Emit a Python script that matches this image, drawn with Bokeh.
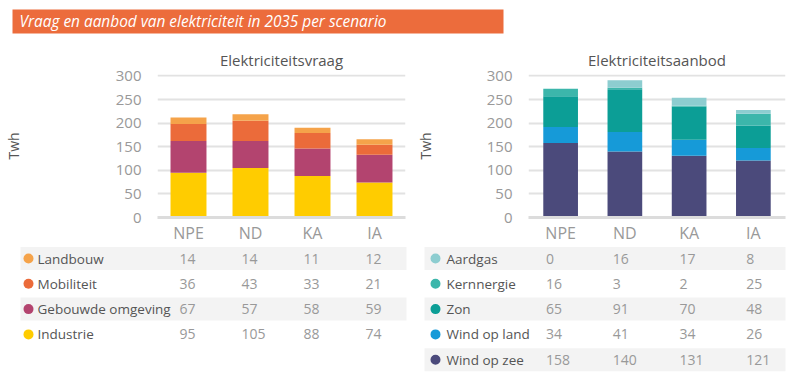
from bokeh.plotting import figure
from bokeh.models import ColumnDataSource, Range1d, FactorRange, FixedTicker
from bokeh.layouts import column, row
from bokeh.embed import file_html
from bokeh.resources import INLINE
from bokeh.core.properties import value

# ---------------- data ----------------
scenarios = ["NPE", "ND", "KA", "IA"]

demand_series = ["Industrie", "Gebouwde omgeving", "Mobiliteit", "Landbouw"]  # bottom -> top
industrie = [95, 105, 88, 74]
gebouwde = [67, 57, 58, 59]
mobiliteit = [36, 43, 33, 21]
landbouw = [14, 14, 11, 12]
demand_colors = ["#FFCC00", "#B3446F", "#EB6B3A", "#F5A34A"]

supply_series = ["Wind op zee", "Wind op land", "Zon", "Kernnergie", "Aardgas"]  # bottom -> top
wind_zee = [158, 140, 131, 121]
wind_land = [34, 41, 34, 26]
zon = [65, 91, 70, 48]
kern = [16, 3, 2, 25]
aardgas = [0, 16, 17, 8]
supply_colors = ["#4B4A7B", "#169AD8", "#0C9E96", "#3CB6AB", "#8DCDD0"]

y_ticks = [0, 50, 100, 150, 200, 250, 300]
header_text = "Vraag en aanbod van elektriciteit in 2035 per scenario"
FONT = "Open Sans"

HEADER_H = 40
CHART_H = 206
TABLE_H = 132


def make_chart(title, series, values, colors, width, b_left, b_right, bar_w, lab_standoff):
    data = {"scenario": scenarios}
    for s, v in zip(series, values):
        data[s] = v
    src = ColumnDataSource(data)
    p = figure(x_range=FactorRange(*scenarios), y_range=Range1d(0, 303),
               width=width, height=CHART_H, output_backend="svg", toolbar_location=None,
               min_border_left=b_left, min_border_right=b_right,
               min_border_top=34, min_border_bottom=29, title=title)
    p.vbar_stack(series, x="scenario", width=bar_w, fill_color=colors,
                 line_color=None, source=src)
    p.outline_line_color = None
    p.title.align = "center"
    p.title.text_font = FONT
    p.title.text_font_size = "15px"
    p.title.text_font_style = "normal"
    p.title.text_color = "#555555"
    p.title.standoff = 9

    p.yaxis.ticker = FixedTicker(ticks=y_ticks)
    p.yaxis.axis_line_color = None
    p.yaxis.major_tick_line_color = None
    p.yaxis.minor_tick_line_color = None
    p.yaxis.major_label_text_color = "#999999"
    p.yaxis.major_label_text_font = FONT
    p.yaxis.major_label_text_font_size = "15px"
    p.yaxis.major_label_standoff = 10
    p.yaxis.axis_label = "Twh"
    p.yaxis.axis_label_text_font = FONT
    p.yaxis.axis_label_text_font_style = "normal"
    p.yaxis.axis_label_text_font_size = "14px"
    p.yaxis.axis_label_text_color = "#555555"
    p.yaxis.axis_label_standoff = lab_standoff

    p.ygrid.ticker = FixedTicker(ticks=y_ticks)
    p.ygrid.grid_line_color = "#e2e2e2"
    p.ygrid.grid_line_width = 2
    p.xgrid.grid_line_color = None

    p.xaxis.axis_line_color = "#dcdcdc"
    p.xaxis.axis_line_width = 3
    p.xaxis.major_tick_line_color = None
    p.xaxis.minor_tick_line_color = None
    p.xaxis.major_label_text_color = "#999999"
    p.xaxis.major_label_text_font = FONT
    p.xaxis.major_label_text_font_size = "16px"
    p.xaxis.major_label_standoff = -2
    return p


def make_table(series_td, values_td, colors_td, width, frame_left, frame_w,
               dot_x, text_x, row_x0, row_x1, val_dx):
    p = figure(x_range=Range1d(0, width), y_range=Range1d(TABLE_H, 0),
               width=width, height=TABLE_H, output_backend="svg", toolbar_location=None,
               x_axis_location=None, y_axis_location=None, min_border=0)
    p.outline_line_color = None
    p.grid.grid_line_color = None
    n = len(series_td)
    centers = [12 + 25.3 * i for i in range(n)]
    gray = [centers[i] for i in range(n) if i % 2 == 0]
    p.rect(x=(row_x0 + row_x1) / 2, y=gray, width=row_x1 - row_x0, height=23,
           fill_color="#f3f3f3", line_color=None)
    p.scatter(x=dot_x, y=centers, size=10, fill_color=colors_td, line_color=None)
    p.text(x=text_x, y=centers, text=series_td, text_baseline="middle",
           text_align="left", text_font=value(FONT), text_font_size="13.5px",
           text_color="#555555")
    cat_w = frame_w / len(scenarios)
    for j in range(len(scenarios)):
        xc = frame_left + cat_w * (j + 0.5) + val_dx
        p.text(x=xc, y=centers, text=[str(v[j]) for v in values_td],
               text_baseline="middle", text_align="left", text_font=value(FONT),
               text_font_size="14px", text_color="#999999")
    return p


# header
header = figure(x_range=Range1d(0, 800), y_range=Range1d(HEADER_H, 0), width=800, height=HEADER_H,
                output_backend="svg", toolbar_location=None,
                x_axis_location=None, y_axis_location=None, min_border=0)
header.outline_line_color = None
header.grid.grid_line_color = None
header.quad(left=12, right=503, top=9, bottom=33, fill_color="#EC6C3C", line_color=None)
header.text(x=19, y=21, text=[header_text], text_baseline="middle", text_align="left",
            text_font=value(FONT), text_font_size="15.4px", text_font_style="italic",
            text_color="white")

left_chart = make_chart("Elektriciteitsvraag", demand_series,
                        [industrie, gebouwde, mobiliteit, landbouw], demand_colors,
                        412, 157, 7, 0.58, 90)
right_chart = make_chart("Elektriciteitsaanbod", supply_series,
                         [wind_zee, wind_land, zon, kern, aardgas], supply_colors,
                         388, 106, 15, 0.54, 49)

left_table = make_table(demand_series[::-1],
                        [landbouw, mobiliteit, gebouwde, industrie],
                        demand_colors[::-1], 412, 157, 248, 28, 37, 20, 406, -9)
right_table = make_table(supply_series[::-1],
                         [aardgas, kern, zon, wind_land, wind_zee],
                         supply_colors[::-1], 388, 106, 267, 23, 34, 12, 373, -6)

layout = column(header, row(left_chart, right_chart), row(left_table, right_table))

open("out.html", "w").write(file_html(layout, INLINE))
